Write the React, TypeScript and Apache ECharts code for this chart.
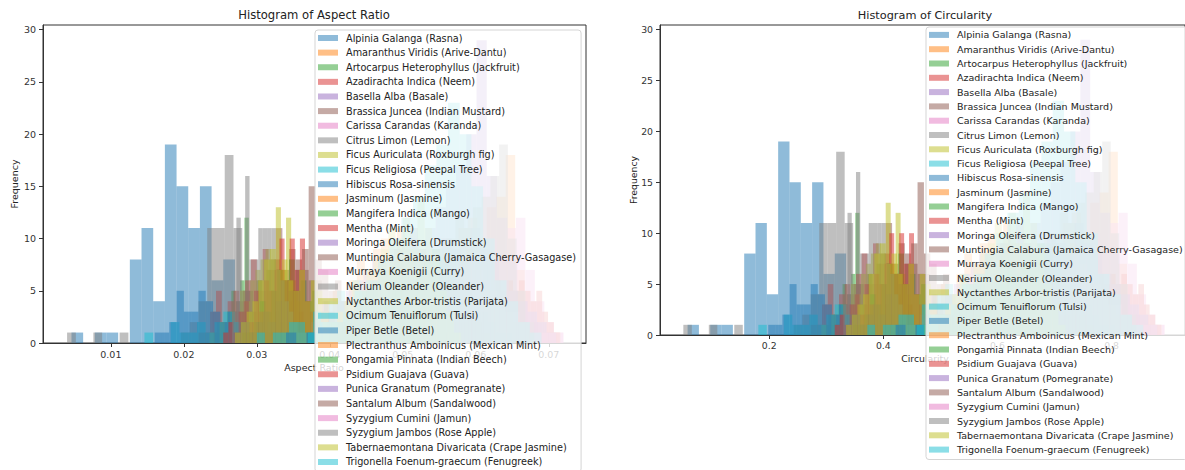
import React, { useEffect, useRef } from "react";
import * as echarts from "echarts";

const FONT = "DejaVu Sans";

const species = [
  "Alpinia Galanga (Rasna)",
  "Amaranthus Viridis (Arive-Dantu)",
  "Artocarpus Heterophyllus (Jackfruit)",
  "Azadirachta Indica (Neem)",
  "Basella Alba (Basale)",
  "Brassica Juncea (Indian Mustard)",
  "Carissa Carandas (Karanda)",
  "Citrus Limon (Lemon)",
  "Ficus Auriculata (Roxburgh fig)",
  "Ficus Religiosa (Peepal Tree)",
  "Hibiscus Rosa-sinensis",
  "Jasminum (Jasmine)",
  "Mangifera Indica (Mango)",
  "Mentha (Mint)",
  "Moringa Oleifera (Drumstick)",
  "Muntingia Calabura (Jamaica Cherry-Gasagase)",
  "Murraya Koenigii (Curry)",
  "Nerium Oleander (Oleander)",
  "Nyctanthes Arbor-tristis (Parijata)",
  "Ocimum Tenuiflorum (Tulsi)",
  "Piper Betle (Betel)",
  "Plectranthus Amboinicus (Mexican Mint)",
  "Pongamia Pinnata (Indian Beech)",
  "Psidium Guajava (Guava)",
  "Punica Granatum (Pomegranate)",
  "Santalum Album (Sandalwood)",
  "Syzygium Cumini (Jamun)",
  "Syzygium Jambos (Rose Apple)",
  "Tabernaemontana Divaricata (Crape Jasmine)",
  "Trigonella Foenum-graecum (Fenugreek)",
];

const palette = [
  "rgba(31,119,180,0.5)",
  "rgba(255,127,14,0.5)",
  "rgba(44,160,44,0.5)",
  "rgba(214,39,40,0.5)",
  "rgba(148,103,189,0.5)",
  "rgba(140,86,75,0.5)",
  "rgba(227,119,194,0.5)",
  "rgba(127,127,127,0.5)",
  "rgba(188,189,34,0.5)",
  "rgba(23,190,207,0.5)",
];

// first bin edge and bin width of each species' histogram (20 bins)
const aspectMin = [
  0.0046, 0.042, 0.0241, 0.022, 0.0405, 0.0245, 0.038, 0.004, 0.0235, 0.0146,
  0.016, 0.036, 0.028, 0.0254, 0.035, 0.029, 0.046, 0.0266, 0.027, 0.03,
  0.034, 0.05, 0.043, 0.0555, 0.045, 0.04, 0.052, 0.044, 0.038, 0.037,
];
const aspectWidth = [
  0.0016, 0.0013, 0.0006, 0.0008, 0.0014, 0.0009, 0.0012, 0.0012, 0.0007, 0.0012,
  0.001, 0.0011, 0.0008, 0.0007, 0.0012, 0.0009, 0.0013, 0.0006, 0.0008, 0.0011,
  0.0014, 0.00108, 0.0011, 0.0008, 0.0013, 0.0011, 0.001, 0.0012, 0.001, 0.0016,
];
const circMin = [
  0.05704, 0.5208, 0.29884, 0.2728, 0.5022, 0.3038, 0.4712, 0.0496, 0.2914, 0.18104,
  0.1984, 0.4464, 0.3472, 0.31496, 0.434, 0.3596, 0.5704, 0.32984, 0.3348, 0.372,
  0.4216, 0.62, 0.5332, 0.6882, 0.558, 0.496, 0.6448, 0.5456, 0.4712, 0.4588,
];
const circWidth = [
  0.01984, 0.01612, 0.00744, 0.00992, 0.01736, 0.01116, 0.01488, 0.01488, 0.00868, 0.01488,
  0.0124, 0.01364, 0.00992, 0.00868, 0.01488, 0.01116, 0.01612, 0.00744, 0.00992, 0.01364,
  0.01736, 0.013392, 0.01364, 0.00992, 0.01612, 0.01364, 0.0124, 0.01488, 0.0124, 0.01984,
];

// frequencies per bin
const alpiniaGalanga = [1, 0, 1, 1, 0, 8, 11, 4, 19, 15, 11, 15, 6, 8, 3, 1, 0, 0, 0, 1];
const amaranthusViridis = [1, 2, 2, 3, 4, 5, 7, 6, 8, 9, 10, 9, 11, 12, 10, 13, 14, 18, 7, 2];
const artocarpusHeterophyllus = [1, 1, 2, 3, 5, 4, 6, 12, 5, 3, 6, 4, 7, 5, 3, 2, 1, 1, 0, 1];
const azadirachtaIndica = [1, 1, 3, 5, 2, 4, 5, 3, 6, 8, 5, 9, 7, 8, 6, 4, 5, 3, 1, 1];
const basellaAlba = [1, 1, 2, 3, 4, 5, 6, 8, 9, 11, 13, 15, 17, 20, 29, 16, 12, 8, 4, 2];
const brassicaJuncea = [2, 1, 3, 4, 5, 3, 6, 5, 8, 11, 7, 9, 8, 7, 15, 6, 4, 3, 2, 1];
const carissaCarandas = [1, 1, 2, 3, 4, 5, 6, 7, 8, 9, 8, 10, 9, 7, 6, 5, 4, 2, 1, 1];
const citrusLimon = [1, 0, 0, 1, 0, 0, 1, 0, 0, 0, 0, 0, 0, 1, 2, 4, 11, 11, 18, 11];
const ficusAuriculata = [1, 0, 2, 1, 3, 2, 5, 4, 6, 7, 8, 9, 8, 13, 7, 12, 6, 4, 2, 1];
const ficusReligiosa = [1, 0, 0, 2, 1, 1, 2, 1, 2, 3, 2, 2, 1, 1, 2, 1, 1, 0, 1, 1];
const hibiscusRosaSinensis = [1, 1, 2, 5, 3, 3, 5, 4, 3, 2, 3, 2, 2, 1, 2, 1, 1, 1, 0, 1];
const jasminum = [1, 1, 2, 3, 5, 4, 6, 8, 7, 9, 10, 8, 11, 9, 7, 6, 4, 3, 2, 1];
const mangiferaIndica = [1, 1, 2, 4, 3, 5, 7, 6, 8, 5, 6, 4, 5, 3, 4, 2, 1, 1, 0, 1];
const mentha = [1, 2, 1, 3, 4, 2, 5, 3, 6, 5, 7, 10, 6, 10, 7, 10, 4, 3, 2, 1];
const moringaOleifera = [1, 1, 2, 3, 2, 4, 5, 6, 7, 8, 6, 9, 8, 7, 5, 4, 3, 2, 1, 1];
const muntingiaCalabura = [1, 2, 3, 2, 4, 6, 5, 7, 9, 6, 8, 7, 5, 6, 4, 3, 2, 1, 1, 1];
const murrayaKoenigii = [1, 1, 2, 3, 3, 4, 5, 6, 7, 6, 8, 9, 10, 8, 11, 12, 7, 4, 2, 1];
const neriumOleander = [3, 12, 5, 16, 8, 8, 11, 11, 11, 11, 7, 6, 4, 3, 2, 1, 1, 0, 0, 1];
const nyctanthesArborTristis = [1, 2, 3, 4, 6, 8, 9, 7, 8, 6, 5, 7, 4, 6, 5, 3, 2, 2, 1, 1];
const ocimumTenuiflorum = [1, 0, 1, 1, 2, 2, 1, 3, 2, 4, 5, 4, 6, 5, 4, 3, 2, 2, 1, 1];
const piperBetle = [1, 0, 1, 1, 2, 2, 3, 4, 5, 4, 6, 7, 6, 7, 5, 4, 3, 2, 1, 1];
const plectranthusAmboinicus = [1, 2, 3, 4, 5, 7, 6, 8, 9, 7, 6, 5, 4, 3, 2, 2, 1, 1, 1, 1];
const pongamiaPinnata = [1, 1, 2, 3, 4, 5, 6, 5, 7, 8, 9, 8, 7, 6, 5, 4, 3, 2, 1, 1];
const psidiumGuajava = [1, 1, 2, 2, 3, 4, 3, 5, 4, 6, 5, 6, 5, 6, 5, 4, 5, 3, 2, 1];
const punicaGranatum = [1, 2, 3, 4, 5, 6, 8, 7, 10, 9, 8, 11, 9, 8, 6, 5, 4, 3, 2, 1];
const santalumAlbum = [1, 2, 3, 4, 5, 6, 8, 7, 9, 10, 11, 9, 8, 7, 6, 5, 4, 3, 2, 1];
const syzygiumCumini = [1, 2, 3, 4, 5, 6, 7, 8, 7, 6, 5, 4, 3, 3, 2, 2, 1, 1, 1, 1];
const syzygiumJambos = [1, 1, 2, 2, 4, 5, 6, 7, 8, 9, 10, 12, 11, 13, 14, 16, 19, 10, 5, 2];
const tabernaemontanaDivaricata = [1, 2, 2, 3, 4, 6, 5, 7, 8, 9, 11, 10, 12, 9, 14, 11, 8, 5, 3, 1];
const trigonellaFoenumGraecum = [1, 2, 2, 3, 5, 6, 8, 10, 12, 14, 17, 19, 23, 20, 15, 10, 6, 4, 2, 1];

const binCounts = [
  alpiniaGalanga, amaranthusViridis, artocarpusHeterophyllus, azadirachtaIndica, basellaAlba,
  brassicaJuncea, carissaCarandas, citrusLimon, ficusAuriculata, ficusReligiosa,
  hibiscusRosaSinensis, jasminum, mangiferaIndica, mentha, moringaOleifera,
  muntingiaCalabura, murrayaKoenigii, neriumOleander, nyctanthesArborTristis, ocimumTenuiflorum,
  piperBetle, plectranthusAmboinicus, pongamiaPinnata, psidiumGuajava, punicaGranatum,
  santalumAlbum, syzygiumCumini, syzygiumJambos, tabernaemontanaDivaricata, trigonellaFoenumGraecum,
];

const aspectTicks = [0.01, 0.02, 0.03, 0.04, 0.05, 0.06, 0.07];
const circTicks = [0.2, 0.4, 0.6, 0.8];
const freqTicks = [0, 5, 10, 15, 20, 25, 30];

const renderBar = (params: any, api: any) => {
  const count = api.value(2);
  if (!count) return null;
  const p0 = api.coord([api.value(0), count]);
  const p1 = api.coord([api.value(1), 0]);
  const cs = params.coordSys;
  const rect = echarts.graphic.clipRectByRect(
    { x: p0[0], y: p0[1], width: p1[0] - p0[0], height: p1[1] - p0[1] },
    { x: cs.x, y: cs.y, width: cs.width, height: cs.height }
  );
  if (!rect) return null;
  return { type: "rect", shape: rect, style: { fill: api.visual("color") } };
};

function makeXAxis(gridIndex: number, min: number, max: number, ticks: number[], fs: number) {
  return {
    type: "value",
    gridIndex,
    min,
    max,
    splitLine: { show: false },
    axisLine: { show: true, onZero: false, lineStyle: { color: "#333", width: 1 } },
    axisTick: { show: true, inside: false, length: 4, customValues: ticks, lineStyle: { color: "#333" } },
    axisLabel: {
      customValues: ticks,
      margin: 6,
      color: "#333",
      fontSize: fs,
      fontFamily: FONT,
      formatter: (v: number) => String(Math.round(v * 100) / 100),
    },
  };
}

function makeYAxis(gridIndex: number, fs: number) {
  return {
    type: "value",
    gridIndex,
    min: 0,
    max: 30.45,
    splitLine: { show: false },
    axisLine: { show: true, lineStyle: { color: "#333", width: 1 } },
    axisTick: { show: true, inside: false, length: 4, customValues: freqTicks, lineStyle: { color: "#333" } },
    axisLabel: { customValues: freqTicks, margin: 7, color: "#333", fontSize: fs, fontFamily: FONT },
  };
}

function makeLegend(left: number, top: number, fs: number, lineH: number, gap: number) {
  return {
    data: species,
    orient: "vertical",
    left,
    top,
    height: 520,
    icon: "rect",
    itemWidth: 20,
    itemHeight: 6,
    itemGap: gap,
    padding: [2, 5, 4, 3],
    selectedMode: false,
    z: 10,
    backgroundColor: "rgba(255,255,255,0.8)",
    borderColor: "#d5d5d5",
    borderWidth: 1,
    borderRadius: 3,
    textStyle: { fontSize: fs, lineHeight: lineH, color: "#222", fontFamily: FONT, padding: [0, 0, 0, 3] },
  };
}

export default function App() {
  const ref = useRef<HTMLDivElement>(null);

  useEffect(() => {
    document.body.style.margin = "0";
    if (!ref.current) return;
    const chart = echarts.init(ref.current, null, { renderer: "svg" });

    const series: any[] = [];
    species.forEach((name, i) => {
      const counts = binCounts[i];
      series.push({
        type: "custom",
        name,
        xAxisIndex: 0,
        yAxisIndex: 0,
        color: palette[i % 10],
        renderItem: renderBar,
        encode: { x: [0, 1], y: 2 },
        data: counts.map((c, k) => [aspectMin[i] + k * aspectWidth[i], aspectMin[i] + (k + 1) * aspectWidth[i], c]),
      });
    });
    species.forEach((name, i) => {
      const counts = binCounts[i];
      series.push({
        type: "custom",
        name,
        xAxisIndex: 1,
        yAxisIndex: 1,
        color: palette[i % 10],
        renderItem: renderBar,
        encode: { x: [0, 1], y: 2 },
        data: counts.map((c, k) => [circMin[i] + k * circWidth[i], circMin[i] + (k + 1) * circWidth[i], c]),
      });
    });

    const txt = (x: number, y: number, text: string, fs: number, rot = 0) => ({
      type: "text",
      x,
      y,
      rotation: rot,
      z: 0,
      style: { text, fontSize: fs, fontFamily: FONT, fill: "#222", align: "center", verticalAlign: "middle" },
    });

    chart.setOption({
      animation: false,
      backgroundColor: "#fff",
      grid: [
        { left: 43, top: 25, width: 543, height: 318, show: true, borderColor: "#333", borderWidth: 1, backgroundColor: "transparent" },
        { left: 660, top: 25, width: 529, height: 310, show: true, borderColor: "#333", borderWidth: 1, backgroundColor: "transparent" },
      ],
      xAxis: [makeXAxis(0, 0.0007, 0.0751, aspectTicks, 9.5), makeXAxis(1, 0.0087, 0.9287, circTicks, 9.3)],
      yAxis: [makeYAxis(0, 9.5), makeYAxis(1, 9.3)],
      legend: [makeLegend(315, 30, 9.7, 12, 2.62), makeLegend(926, 27, 9.5, 11.8, 2.5)],
      graphic: [
        txt(314, 15, "Histogram of Aspect Ratio", 11.6),
        txt(925, 15, "Histogram of Circularity", 11.3),
        txt(314, 367, "Aspect Ratio", 9.5),
        txt(925, 358, "Circularity", 9.3),
        txt(14, 184, "Frequency", 9.5, Math.PI / 2),
        txt(633, 180, "Frequency", 9.3, Math.PI / 2),
      ],
      series,
    });

    return () => chart.dispose();
  }, []);

  return <div ref={ref} style={{ width: 1185, height: 470 }} />;
}
